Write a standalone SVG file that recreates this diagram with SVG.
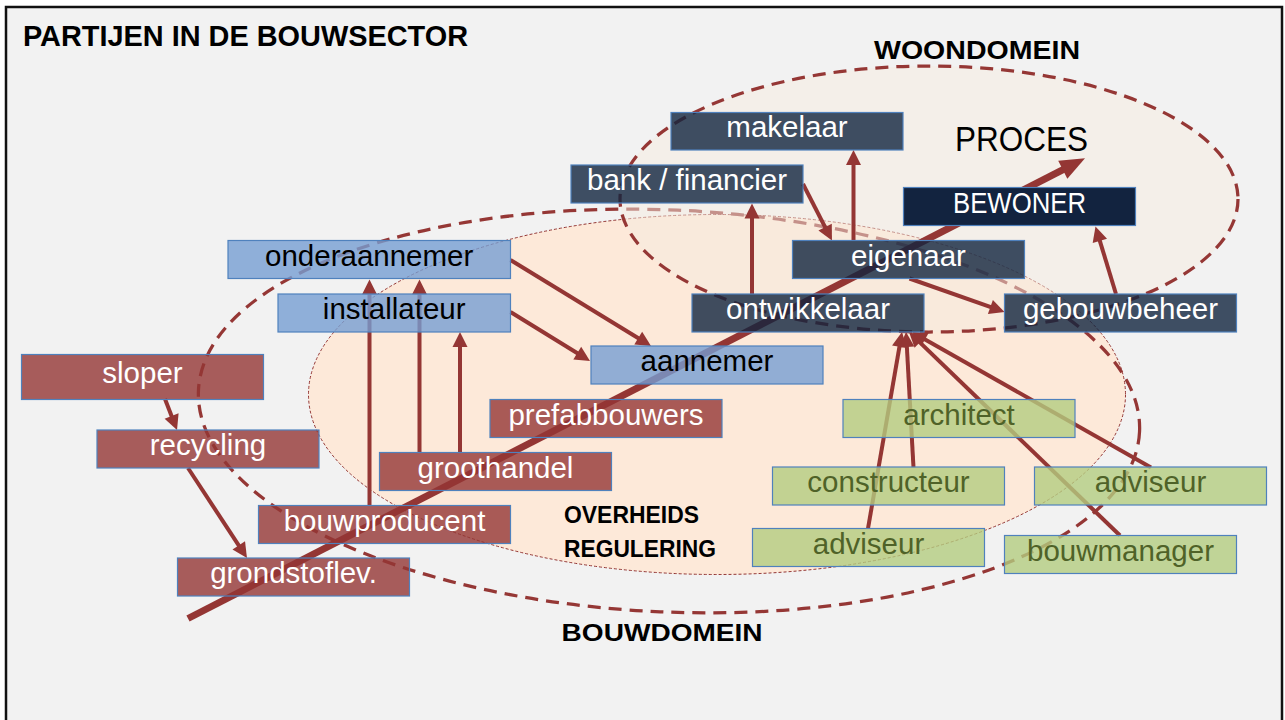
<svg xmlns="http://www.w3.org/2000/svg" width="1285" height="720" viewBox="0 0 1285 720">
<style>
.nd rect{stroke:#4f81bd;stroke-width:1.2}
.dark rect{fill:#10243f;fill-opacity:.8}
.navy rect{fill:#12233f}
.blue rect{fill:#759dd2;fill-opacity:.8}
.red rect{fill:#943634;fill-opacity:.8}
.green rect{fill:#b3cc80;fill-opacity:.8}
.nd text{font-family:"Liberation Sans",Arial,sans-serif;font-size:29.5px;text-anchor:middle}
.dark text,.navy text,.red text{fill:#fff}
.blue text{fill:#000}
.green text{fill:#4f6228}
.lbl{font-family:"Liberation Sans",Arial,sans-serif;font-weight:bold;fill:#000}
.conn line{stroke:#943634;stroke-width:4;fill:none;marker-end:url(#ah)}
.dom{fill:none;stroke:#953735;stroke-width:3.25;stroke-dasharray:13 8}
</style>
<defs>
<marker id="ah" markerUnits="userSpaceOnUse" markerWidth="15" markerHeight="15" refX="5" refY="7.5" orient="auto" overflow="visible">
<path d="M0,0 L15,7.5 L0,15 Z" fill="#943634"/>
</marker>
<marker id="bigah" markerUnits="userSpaceOnUse" markerWidth="25" markerHeight="20" refX="8" refY="10" orient="auto" overflow="visible">
<path d="M0,0 L25,10 L0,20 Z" fill="#943634"/>
</marker>
</defs>
<rect x="0" y="0" width="1285" height="720" fill="#ffffff"/>
<rect x="6" y="7" width="1276" height="740" fill="#f2f2f2" stroke="#111111" stroke-width="2.5"/>
<text class="lbl" x="23" y="46" font-size="29" textLength="445" lengthAdjust="spacingAndGlyphs">PARTIJEN IN DE BOUWSECTOR</text>

<g id="domains">
<ellipse id="overheids-regulering" cx="717" cy="394.5" rx="408.5" ry="180" fill="#fde9d9" stroke="#943634" stroke-width="1" stroke-dasharray="3 2"/>
<ellipse id="bouwdomein" class="dom" cx="669" cy="411" rx="471" ry="201" transform="rotate(2.5 669 411)"/>
<ellipse id="woondomein" cx="929" cy="199" rx="309" ry="133" fill="#f6ebe0" fill-opacity="0.5" stroke="#953735" stroke-width="3.25" stroke-dasharray="13 8"/>
</g>
<text class="lbl" x="874" y="59.3" font-size="25" textLength="206" lengthAdjust="spacingAndGlyphs">WOONDOMEIN</text>
<text class="lbl" x="561.6" y="640.7" font-size="24.5" textLength="201" lengthAdjust="spacingAndGlyphs">BOUWDOMEIN</text>
<text class="lbl" x="564" y="523.3" font-size="23" textLength="135" lengthAdjust="spacingAndGlyphs">OVERHEIDS</text>
<text class="lbl" x="564" y="557.3" font-size="23" textLength="152" lengthAdjust="spacingAndGlyphs">REGULERING</text>
<text x="955" y="150.7" font-family="'Liberation Sans',Arial,sans-serif" font-size="35" fill="#000" textLength="133" lengthAdjust="spacingAndGlyphs">PROCES</text>

<g id="connectors" class="conn">
<line x1="165" y1="399" x2="173.4" y2="420.7"/>
<line x1="188" y1="468" x2="241.5" y2="549.6"/>
<line x1="369.5" y1="505.5" x2="369.5" y2="289.5"/>
<line x1="419.5" y1="452.5" x2="419.5" y2="289.5"/>
<line x1="460" y1="452.5" x2="460" y2="342"/>
<line x1="510.5" y1="260" x2="642.5" y2="340.8"/>
<line x1="510.5" y1="312" x2="581.5" y2="355.8"/>
<line x1="752" y1="294" x2="752" y2="213.5"/>
<line x1="853.5" y1="240.5" x2="853.5" y2="160"/>
<line x1="803" y1="184" x2="827.4" y2="231.6"/>
<line x1="909.5" y1="278.5" x2="995.1" y2="308.7"/>
<line x1="1116" y1="294" x2="1098.4" y2="236.1"/>
<line x1="868" y1="528.5" x2="900.3" y2="341.9"/>
<line x1="913.5" y1="467.5" x2="906.6" y2="342"/>
<line x1="1120" y1="535.5" x2="916.2" y2="338.9"/>
<line x1="1151" y1="467.5" x2="920.7" y2="336.9"/>
</g>
<g id="proces-arrow">
<line x1="188" y1="618.5" x2="1069.9" y2="166.1" stroke="#943634" stroke-width="7" marker-end="url(#bigah)"/>
</g>

<g id="makelaar" class="nd dark"><rect x="671" y="112.5" width="232" height="37.5"/><text x="787" y="137.3">makelaar</text></g>
<g id="bank-financier" class="nd dark"><rect x="571" y="165" width="232" height="38"/><text x="687" y="190">bank / financier</text></g>
<g id="bewoner" class="nd navy"><rect x="903.5" y="187.5" width="232" height="38"/><text x="1019.5" y="212.5" textLength="133" lengthAdjust="spacingAndGlyphs">BEWONER</text></g>
<g id="eigenaar" class="nd dark"><rect x="792.5" y="240.5" width="232" height="38"/><text x="908.5" y="265.5">eigenaar</text></g>
<g id="ontwikkelaar" class="nd dark"><rect x="692" y="294" width="232" height="38"/><text x="808" y="319">ontwikkelaar</text></g>
<g id="gebouwbeheer" class="nd dark"><rect x="1004.5" y="294" width="232" height="38"/><text x="1120.5" y="319">gebouwbeheer</text></g>

<g id="onderaannemer" class="nd blue"><rect x="228" y="240.5" width="282.5" height="38"/><text x="369.2" y="265.5">onderaannemer</text></g>
<g id="installateur" class="nd blue"><rect x="278" y="294" width="232.5" height="38"/><text x="394.2" y="319">installateur</text></g>
<g id="aannemer" class="nd blue"><rect x="591" y="346" width="232" height="38"/><text x="707" y="371">aannemer</text></g>

<g id="sloper" class="nd red"><rect x="21.5" y="354.5" width="242" height="45"/><text x="142.5" y="383">sloper</text></g>
<g id="recycling" class="nd red"><rect x="97" y="430" width="222" height="38"/><text x="208" y="455">recycling</text></g>
<g id="prefabbouwers" class="nd red"><rect x="490" y="399.5" width="232" height="38"/><text x="606" y="424.5">prefabbouwers</text></g>
<g id="groothandel" class="nd red"><rect x="379.5" y="452.5" width="232" height="38"/><text x="495.5" y="477.5">groothandel</text></g>
<g id="bouwproducent" class="nd red"><rect x="258.5" y="505.5" width="252" height="38"/><text x="384.5" y="530.5">bouwproducent</text></g>
<g id="grondstoflev" class="nd red"><rect x="177.5" y="558" width="232" height="38"/><text x="293.5" y="583">grondstoflev.</text></g>

<g id="architect" class="nd green"><rect x="843" y="399.5" width="232" height="38"/><text x="959" y="424.5">architect</text></g>
<g id="constructeur" class="nd green"><rect x="772.5" y="467" width="232" height="38"/><text x="888.5" y="492">constructeur</text></g>
<g id="adviseur-1" class="nd green"><rect x="1034.5" y="467" width="232" height="38"/><text x="1150.5" y="492">adviseur</text></g>
<g id="adviseur-2" class="nd green"><rect x="752.5" y="528.5" width="232" height="38"/><text x="868.5" y="553.5">adviseur</text></g>
<g id="bouwmanager" class="nd green"><rect x="1004.5" y="535.5" width="232" height="38"/><text x="1120.5" y="560.5">bouwmanager</text></g>
</svg>
